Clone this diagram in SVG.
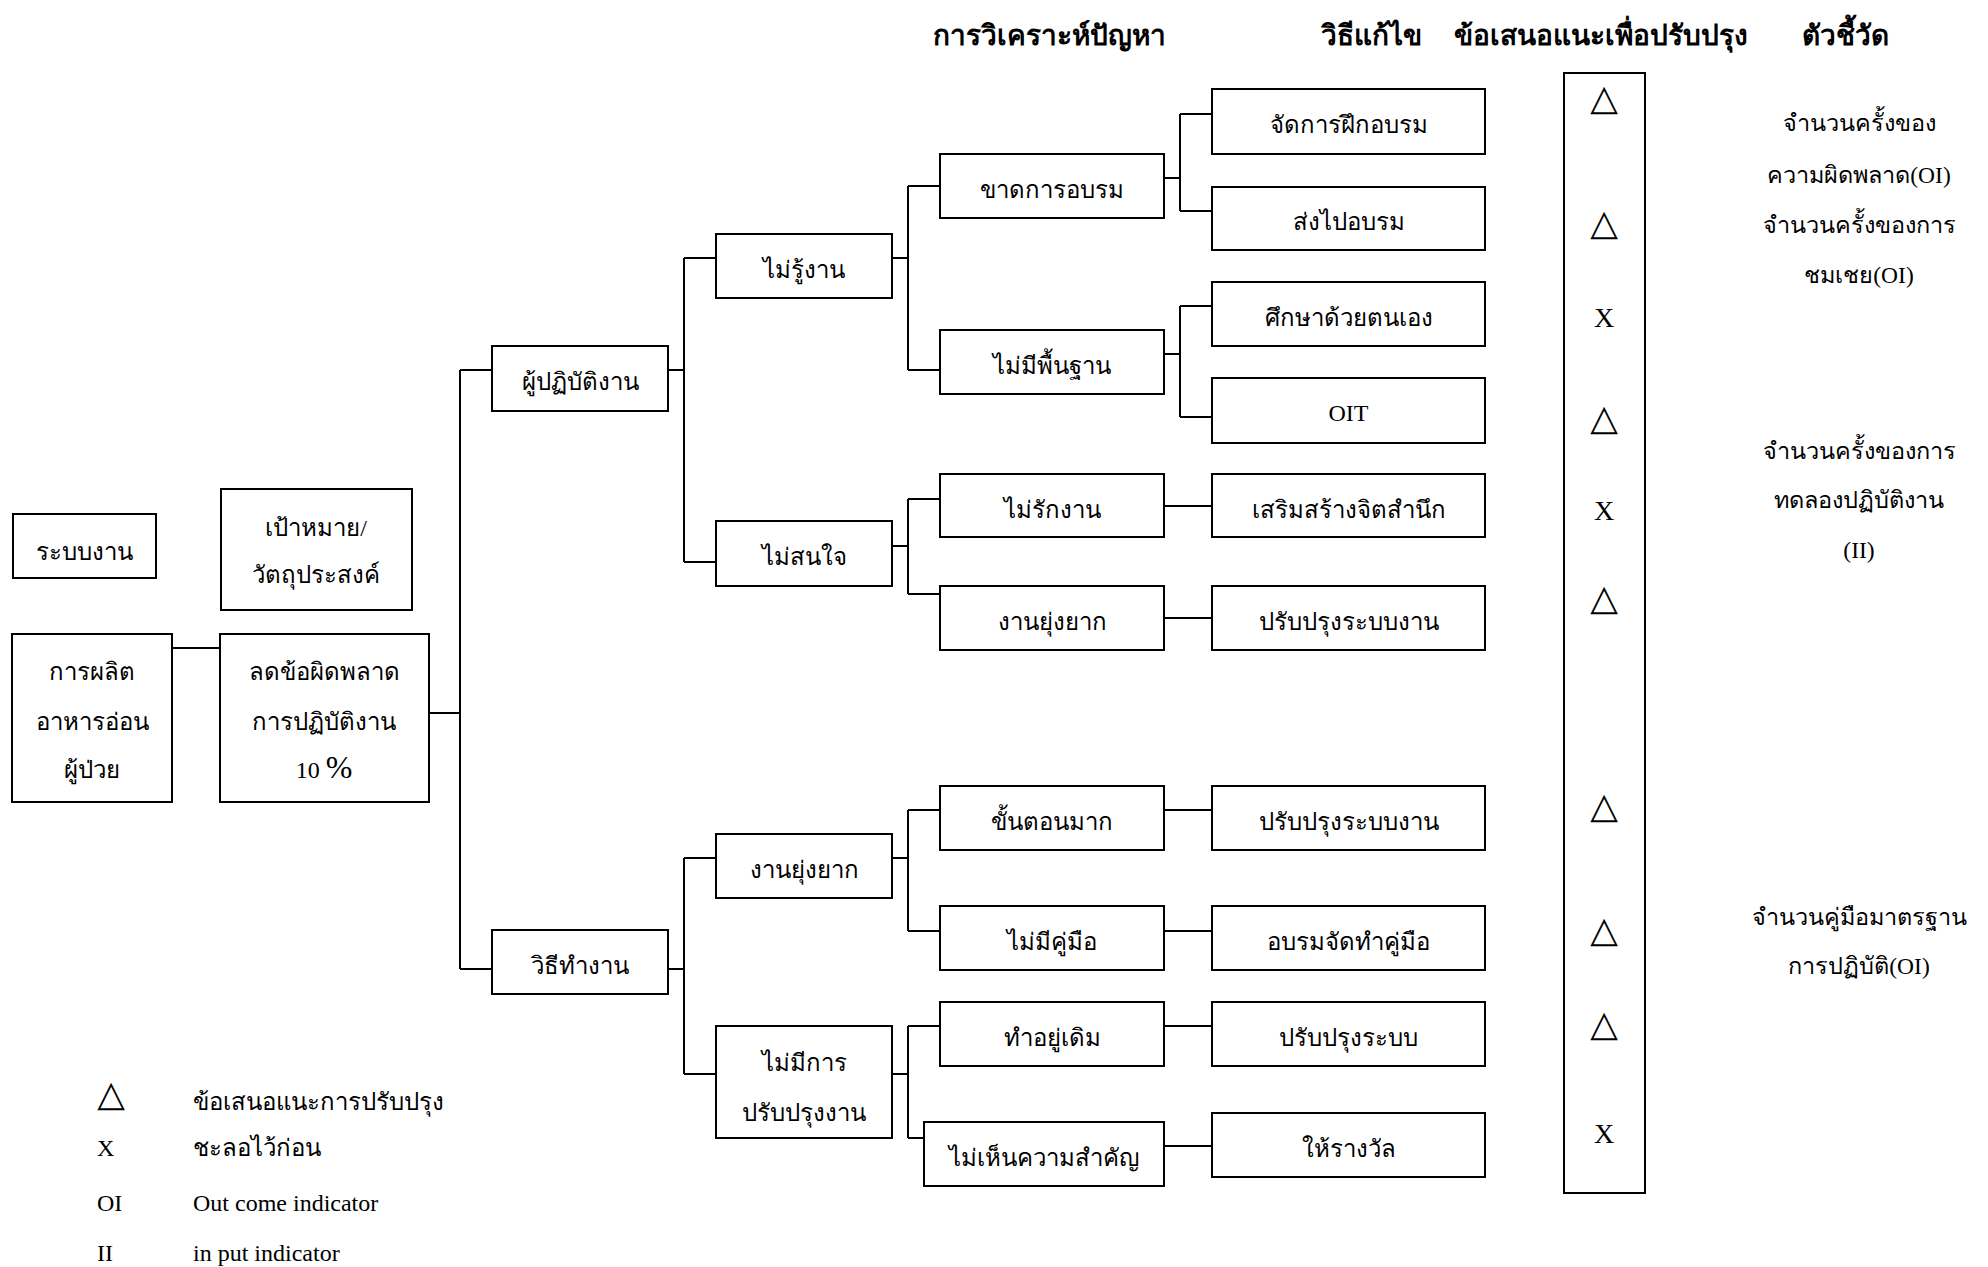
<svg xmlns="http://www.w3.org/2000/svg" width="1988" height="1267" viewBox="0 0 1988 1267">
  <style>
    .box { fill: #ffffff; stroke: #000000; stroke-width: 2; }
    .wire { fill: none; stroke: #000000; stroke-width: 2; }
    .t { font-family: "Liberation Serif", "DejaVu Serif", "Noto Sans", serif; font-size: 24px; fill: #000000; text-anchor: middle; }
    .ind { font-size: 23.5px; }
    .h { font-family: "Liberation Serif", "DejaVu Serif", "Noto Sans", serif; font-size: 28px; font-weight: bold; fill: #000000; text-anchor: middle; }
    .lg { font-family: "Liberation Serif", "DejaVu Serif", "Noto Sans", serif; font-size: 24px; fill: #000000; }
    .sym { font-family: "DejaVu Sans", sans-serif; font-size: 36px; fill: #000000; text-anchor: middle; }
    .mark { font-family: "Liberation Serif", serif; font-size: 28px; fill: #000000; text-anchor: middle; }
  </style>

  <rect width="1988" height="1267" fill="#ffffff"/>

  <!-- column headings -->
  <g id="headings">
    <text class="h" x="1049" y="45">การวิเคราะห์ปัญหา</text>
    <text class="h" x="1371" y="45">วิธีแก้ไข</text>
    <text class="h" x="1601" y="45">ข้อเสนอแนะเพื่อปรับปรุง</text>
    <text class="h" x="1845" y="45">ตัวชี้วัด</text>
  </g>

  <!-- connectors -->
  <g id="connectors">
    <path class="wire" d="M172 648 H220"/>
    <path class="wire" d="M429 713 H460 M460 370 V969 M460 370 H492 M460 969 H492"/>
    <!-- ผู้ปฏิบัติงาน branch -->
    <path class="wire" d="M668 370 H684 M684 258 V562 M684 258 H716 M684 562 H716"/>
    <path class="wire" d="M892 258 H908 M908 186 V370 M908 186 H940 M908 370 H940"/>
    <path class="wire" d="M892 546 H908 M908 499 V594 M908 499 H940 M908 594 H940"/>
    <path class="wire" d="M1164 178 H1180 M1180 114 V211 M1180 114 H1212 M1180 211 H1212"/>
    <path class="wire" d="M1164 354 H1180 M1180 306 V417 M1180 306 H1212 M1180 417 H1212"/>
    <path class="wire" d="M1164 506 H1212"/>
    <path class="wire" d="M1164 618 H1212"/>
    <!-- วิธีทำงาน branch -->
    <path class="wire" d="M668 969 H684 M684 858 V1074 M684 858 H716 M684 1074 H716"/>
    <path class="wire" d="M892 858 H908 M908 810 V931 M908 810 H940 M908 931 H940"/>
    <path class="wire" d="M892 1074 H908 M908 1026 V1138 M908 1026 H940 M908 1138 H924"/>
    <path class="wire" d="M1164 810 H1212"/>
    <path class="wire" d="M1164 931 H1212"/>
    <path class="wire" d="M1164 1026 H1212"/>
    <path class="wire" d="M1164 1146 H1212"/>
  </g>

  <!-- left-hand boxes -->
  <g id="n-system">
    <rect class="box" x="13" y="514" width="143" height="64"/>
    <text class="t" x="84.5" y="560">ระบบงาน</text>
  </g>
  <g id="n-goal">
    <rect class="box" x="221" y="489" width="191" height="121"/>
    <text class="t" x="316" y="536">เป้าหมาย/</text>
    <text class="t" x="316" y="583">วัตถุประสงค์</text>
  </g>
  <g id="n-product">
    <rect class="box" x="12" y="634" width="160" height="168"/>
    <text class="t" x="92" y="680">การผลิต</text>
    <text class="t" x="92" y="730">อาหารอ่อน</text>
    <text class="t" x="92" y="778">ผู้ป่วย</text>
  </g>
  <g id="n-target">
    <rect class="box" x="220" y="634" width="209" height="168"/>
    <text class="t" x="324" y="680">ลดข้อผิดพลาด</text>
    <text class="t" x="324" y="730">การปฏิบัติงาน</text>
    <text class="t" x="324" y="778">10 <tspan font-size="32">%</tspan></text>
  </g>

  <!-- level 1 -->
  <g id="n-worker">
    <rect class="box" x="492" y="346" width="176" height="65"/>
    <text class="t" x="580" y="390">ผู้ปฏิบัติงาน</text>
  </g>
  <g id="n-method">
    <rect class="box" x="492" y="930" width="176" height="64"/>
    <text class="t" x="580" y="974">วิธีทำงาน</text>
  </g>

  <!-- level 2 -->
  <g id="n-noknow">
    <rect class="box" x="716" y="234" width="176" height="64"/>
    <text class="t" x="804" y="278">ไม่รู้งาน</text>
  </g>
  <g id="n-nocare">
    <rect class="box" x="716" y="521" width="176" height="65"/>
    <text class="t" x="804" y="565">ไม่สนใจ</text>
  </g>
  <g id="n-hard">
    <rect class="box" x="716" y="834" width="176" height="64"/>
    <text class="t" x="804" y="878">งานยุ่งยาก</text>
  </g>
  <g id="n-noimprove">
    <rect class="box" x="716" y="1026" width="176" height="112"/>
    <text class="t" x="804" y="1071">ไม่มีการ</text>
    <text class="t" x="804" y="1121">ปรับปรุงงาน</text>
  </g>

  <!-- level 3 -->
  <g id="n-notrained">
    <rect class="box" x="940" y="154" width="224" height="64"/>
    <text class="t" x="1052" y="198">ขาดการอบรม</text>
  </g>
  <g id="n-nobasis">
    <rect class="box" x="940" y="330" width="224" height="64"/>
    <text class="t" x="1052" y="374">ไม่มีพื้นฐาน</text>
  </g>
  <g id="n-nolove">
    <rect class="box" x="940" y="474" width="224" height="63"/>
    <text class="t" x="1052" y="518">ไม่รักงาน</text>
  </g>
  <g id="n-hard2">
    <rect class="box" x="940" y="586" width="224" height="64"/>
    <text class="t" x="1052" y="630">งานยุ่งยาก</text>
  </g>
  <g id="n-steps">
    <rect class="box" x="940" y="786" width="224" height="64"/>
    <text class="t" x="1052" y="830">ขั้นตอนมาก</text>
  </g>
  <g id="n-nomanual">
    <rect class="box" x="940" y="906" width="224" height="64"/>
    <text class="t" x="1052" y="950">ไม่มีคู่มือ</text>
  </g>
  <g id="n-habit">
    <rect class="box" x="940" y="1002" width="224" height="64"/>
    <text class="t" x="1052" y="1046">ทำอยู่เดิม</text>
  </g>
  <g id="n-noimportance">
    <rect class="box" x="924" y="1122" width="240" height="64"/>
    <text class="t" x="1044" y="1166">ไม่เห็นความสำคัญ</text>
  </g>

  <!-- solutions -->
  <g id="s-training">
    <rect class="box" x="1212" y="89" width="273" height="65"/>
    <text class="t" x="1348.5" y="133">จัดการฝึกอบรม</text>
  </g>
  <g id="s-send">
    <rect class="box" x="1212" y="187" width="273" height="63"/>
    <text class="t" x="1348.5" y="230">ส่งไปอบรม</text>
  </g>
  <g id="s-selfstudy">
    <rect class="box" x="1212" y="282" width="273" height="64"/>
    <text class="t" x="1348.5" y="326">ศึกษาด้วยตนเอง</text>
  </g>
  <g id="s-oit">
    <rect class="box" x="1212" y="378" width="273" height="65"/>
    <text class="t" x="1348.5" y="421">OIT</text>
  </g>
  <g id="s-awareness">
    <rect class="box" x="1212" y="474" width="273" height="63"/>
    <text class="t" x="1348.5" y="518">เสริมสร้างจิตสำนึก</text>
  </g>
  <g id="s-system1">
    <rect class="box" x="1212" y="586" width="273" height="64"/>
    <text class="t" x="1348.5" y="630">ปรับปรุงระบบงาน</text>
  </g>
  <g id="s-system2">
    <rect class="box" x="1212" y="786" width="273" height="64"/>
    <text class="t" x="1348.5" y="830">ปรับปรุงระบบงาน</text>
  </g>
  <g id="s-manual">
    <rect class="box" x="1212" y="906" width="273" height="64"/>
    <text class="t" x="1348.5" y="950">อบรมจัดทำคู่มือ</text>
  </g>
  <g id="s-system3">
    <rect class="box" x="1212" y="1002" width="273" height="64"/>
    <text class="t" x="1348.5" y="1046">ปรับปรุงระบบ</text>
  </g>
  <g id="s-reward">
    <rect class="box" x="1212" y="1113" width="273" height="64"/>
    <text class="t" x="1348.5" y="1157">ให้รางวัล</text>
  </g>

  <!-- recommendation column -->
  <g id="recommendations">
    <rect class="box" x="1564" y="73" width="81" height="1120"/>
    <text class="sym" x="1604" y="110">△</text>
    <text class="sym" x="1604" y="235">△</text>
    <text class="mark" x="1604" y="327">X</text>
    <text class="sym" x="1604" y="430">△</text>
    <text class="mark" x="1604" y="520">X</text>
    <text class="sym" x="1604" y="610">△</text>
    <text class="sym" x="1604" y="818">△</text>
    <text class="sym" x="1604" y="942">△</text>
    <text class="sym" x="1604" y="1036">△</text>
    <text class="mark" x="1604" y="1143">X</text>
  </g>

  <!-- indicators -->
  <g id="indicators">
    <text class="t ind" x="1859" y="131">จำนวนครั้งของ</text>
    <text class="t ind" x="1859" y="183">ความผิดพลาด(OI)</text>
    <text class="t ind" x="1859" y="233">จำนวนครั้งของการ</text>
    <text class="t ind" x="1859" y="283">ชมเชย(OI)</text>
    <text class="t ind" x="1859" y="459">จำนวนครั้งของการ</text>
    <text class="t ind" x="1859" y="508">ทดลองปฏิบัติงาน</text>
    <text class="t ind" x="1859" y="558">(II)</text>
    <text class="t ind" x="1859" y="925">จำนวนคู่มือมาตรฐาน</text>
    <text class="t ind" x="1859" y="974">การปฏิบัติ(OI)</text>
  </g>

  <!-- legend -->
  <g id="legend">
    <text class="sym" x="111" y="1106" font-size="32">△</text>
    <text class="lg" x="193" y="1110">ข้อเสนอแนะการปรับปรุง</text>
    <text class="lg" x="97" y="1156">X</text>
    <text class="lg" x="193" y="1156">ชะลอไว้ก่อน</text>
    <text class="lg" x="97" y="1211">OI</text>
    <text class="lg" x="193" y="1211">Out come indicator</text>
    <text class="lg" x="97" y="1261">II</text>
    <text class="lg" x="193" y="1261">in put indicator</text>
  </g>
</svg>
